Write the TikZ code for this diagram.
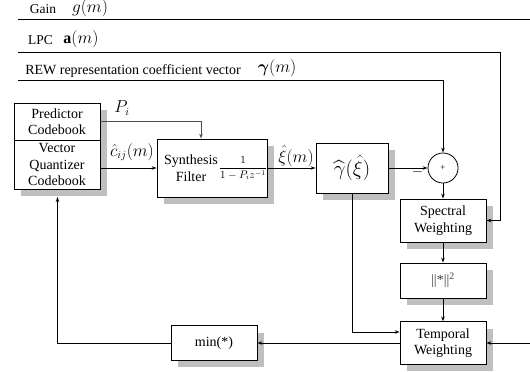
\documentclass[tikz,border=0pt]{standalone}
\usepackage{amsmath}
\usepackage{bm}
\usepackage{fontspec}
\setmainfont{Liberation Serif}
\usetikzlibrary{arrows.meta,shadows}
\begin{document}
\begin{tikzpicture}[x=1pt,y=-1pt,
  box/.style={draw,fill=white,line width=0.8pt,inner sep=0pt,align=center,
    font=\fontsize{14}{16.5}\selectfont,
    drop shadow={shadow xshift=7pt,shadow yshift=-7pt,fill=black!25,opacity=1}},
  conn/.style={line width=0.8pt},
  arr/.style={conn,-{Stealth[length=5pt,width=3.5pt]}},
  lbl/.style={inner sep=0pt,font=\fontsize{13.5}{16}\selectfont},
  mlbl/.style={inner sep=0pt,font=\fontsize{16}{18}\selectfont}]
\useasboundingbox (0,0) rectangle (530,372);

% boxes
\node[box,minimum width=86pt,minimum height=37pt] (pred) at (57,121.5) {Predictor\\Codebook};
\node[box,minimum width=86pt,minimum height=49pt] (vq) at (57,164.5) {Vector\\Quantizer\\Codebook};
\node[box,minimum width=110pt,minimum height=58pt] (synth) at (212,168) {};
\node[lbl,align=center,font=\fontsize{14}{16.5}\selectfont] (synthtxt) at (191,168) {Synthesis\\Filter};
\node[inner sep=0pt,font=\fontsize{10.5}{12}\selectfont] (synthfrac) at (243,168) {$\displaystyle\frac{1}{1-P_i z^{-1}}$};
\node[box,minimum width=72pt,minimum height=50pt,font=\fontsize{20}{22}\selectfont] (gam) at (352,168) {$\widehat{\gamma}(\hat{\xi})$};
\node[draw,circle,fill=white,minimum size=30pt,inner sep=0pt,line width=0.8pt,font=\fontsize{9}{9}\selectfont] (sum) at (443,168) {+};
\node[box,minimum width=86pt,minimum height=43pt] (spec) at (443,220.5) {Spectral\\Weighting};
\node[box,minimum width=86pt,minimum height=35pt] (norm) at (443,280.5) {\textcolor{black!75}{||*||\textsuperscript{2}}};
\node[box,minimum width=86pt,minimum height=42.5pt] (temp) at (443,343) {Temporal\\Weighting};
\node[box,minimum width=86pt,minimum height=34.5pt] (minb) at (214,343) {min(*)};

% coordinates
\coordinate (gainL) at (18,19);
\coordinate (gainR) at (530,19);
\coordinate (lpcL) at (18,52);
\coordinate (lpcC) at (500,52);
\coordinate (rewL) at (18,80);
\coordinate (rightIn) at (530,343);
\coordinate (fbC) at (57.5,343);
\coordinate (fbT) at (57.5,197);

% top labels
\node[lbl] (gaintxt) at (43,9) {Gain};
\node[mlbl] (gainsym) at (90,8.5) {$g(m)$};
\node[lbl] (lpctxt) at (40.5,40.5) {LPC};
\node[mlbl] (lpcsym) at (81,39.5) {$\mathbf{a}(m)$};
\node[lbl,font=\fontsize{14}{16}\selectfont] (rewtxt) at (133,71.5) {REW representation coefficient vector};
\node[mlbl] (rewsym) at (277,68.5) {$\bm{\gamma}(m)$};

% connector labels
\node[mlbl] (pilbl) at (122,108) {$P_i$};
\node[mlbl] (clbl) at (132,152) {$\hat{c}_{ij}(m)$};
\node[mlbl,font=\fontsize{17}{19}\selectfont] (xilbl) at (296,156) {$\hat{\xi}(m)$};
\node[inner sep=0pt,font=\fontsize{14}{14}\selectfont] (minuslbl) at (417.5,172) {$-$};

% connectors
\draw[conn] (gainL) -- (gainR);
\draw[arr] (lpcL) -- (lpcC) |- (spec.east);
\draw[arr] (rewL) -| (sum.north);
\draw[arr,draw=black!70] (pred.east) -| ([xshift=-11pt]synth.north);
\draw[arr] ([yshift=-3.5pt]vq.east) -- (synth.west);
\draw[arr] (synth.east) -- (gam.west);
\draw[arr] (gam.east) -- (sum.west);
\draw[arr] (sum.south) -- (spec.north);
\draw[arr] (spec.south) -- (norm.north);
\draw[arr] (norm.south) -- (temp.north);
\draw[arr] (gam.south) |- ([yshift=11pt]temp.west);
\draw[arr] (rightIn) -- (temp.east);
\draw[arr] (temp.west) -- (minb.east);
\draw[arr] (minb.west) -- (fbC) -- (fbT);
\end{tikzpicture}
\end{document}
